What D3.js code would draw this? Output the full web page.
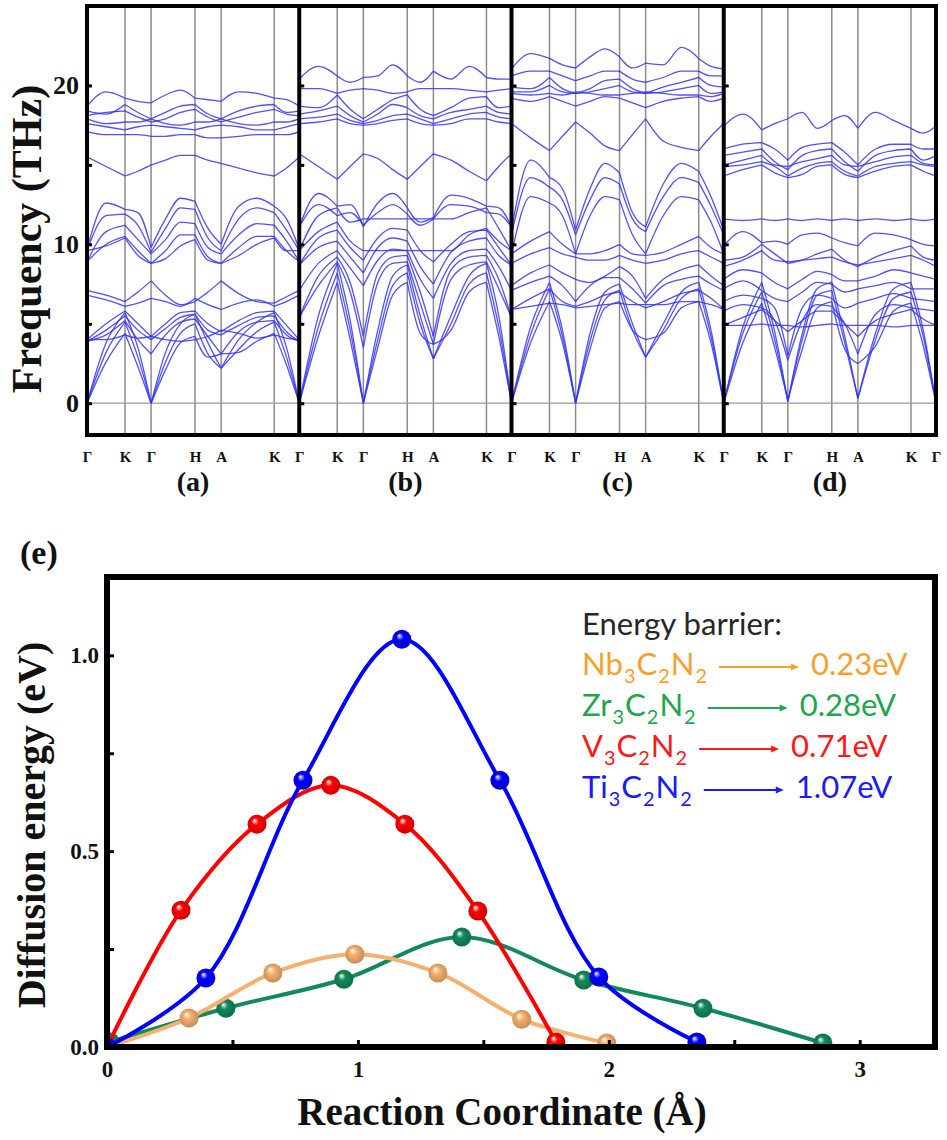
<!DOCTYPE html>
<html>
<head>
<meta charset="utf-8">
<script src="https://cdn.jsdelivr.net/npm/d3@7"></script>
<style>
  body { margin: 0; background: #fff; }
  svg { display: block; }
  .serif { font-family: "Liberation Serif", "Times New Roman", serif; font-weight: bold; fill: #111; }
</style>
</head>
<body>
<svg id="chart" width="947" height="1140"></svg>
<script>
// ---- phonon dispersions, panels (a)-(d) ----
var kLabels = ["Γ", "K", "Γ", "H", "A", "K", "Γ"];
var kTicks = [0, 0.179, 0.302, 0.509, 0.632, 0.882, 1.0];
var kGrid = [0, 0.09, 0.179, 0.24, 0.302, 0.37, 0.44, 0.509, 0.57, 0.632, 0.715, 0.80, 0.882, 0.94, 1.0];
var panelNames = ["(a)", "(b)", "(c)", "(d)"];
var freqTicks = [0, 10, 20];
var freqMinor = [0, 5, 10, 15, 20];

var bandsA = [
  [18.7, 19.6, 19.2, 19.0, 18.9, 19.4, 19.7, 19.2, 19.1, 19.0, 19.6, 19.5, 19.2, 19.1, 18.7],
  [18.4, 18.2, 18.8, 18.3, 17.9, 18.3, 18.7, 18.8, 18.2, 17.9, 18.4, 18.7, 18.8, 18.3, 18.4],
  [18.1, 18.3, 18.4, 18.0, 17.7, 17.9, 18.3, 18.5, 18.0, 17.7, 18.0, 18.3, 18.5, 18.2, 18.1],
  [17.9, 17.6, 17.7, 17.7, 17.9, 17.6, 17.5, 17.7, 17.7, 17.9, 17.6, 17.5, 17.7, 17.7, 17.9],
  [17.6, 17.4, 17.2, 17.4, 17.5, 17.4, 17.3, 17.2, 17.4, 17.5, 17.4, 17.2, 17.2, 17.4, 17.6],
  [17.1, 16.9, 16.9, 16.9, 16.8, 16.8, 16.9, 16.9, 16.7, 16.7, 16.8, 16.9, 16.9, 16.9, 17.1],
  [15.5, 14.9, 14.3, 14.6, 15.0, 15.3, 15.6, 15.6, 15.3, 15.1, 14.8, 14.5, 14.3, 14.8, 15.5],
  [9.7, 12.6, 12.2, 12.0, 9.8, 11.6, 12.9, 12.7, 11.0, 10.0, 12.4, 12.9, 12.4, 11.6, 9.7],
  [9.6, 11.8, 11.9, 11.2, 9.5, 11.0, 12.3, 12.2, 10.4, 9.6, 11.6, 12.3, 12.0, 10.9, 9.6],
  [8.9, 10.8, 11.2, 10.3, 9.4, 10.3, 11.4, 11.3, 9.8, 9.4, 10.6, 11.3, 11.2, 10.2, 8.9],
  [8.9, 10.0, 10.5, 9.6, 8.8, 9.6, 10.6, 10.6, 9.2, 8.8, 9.8, 10.5, 10.5, 9.6, 8.9],
  [9.6, 9.9, 10.4, 9.3, 8.8, 9.1, 9.9, 10.3, 9.0, 8.8, 9.3, 10.0, 10.4, 9.6, 9.6],
  [7.1, 6.8, 6.4, 7.0, 7.7, 6.8, 6.2, 6.4, 7.0, 7.7, 6.9, 6.4, 6.3, 6.7, 7.1],
  [6.8, 6.5, 6.1, 6.3, 6.6, 6.4, 6.1, 6.6, 6.2, 5.9, 6.3, 6.5, 6.1, 6.4, 6.8],
  [4.0, 5.0, 5.8, 5.0, 4.2, 5.0, 5.7, 5.8, 5.0, 4.5, 5.2, 5.7, 5.8, 4.9, 4.0],
  [3.9, 4.6, 5.5, 4.6, 4.0, 4.7, 5.4, 5.6, 4.6, 4.3, 4.9, 5.4, 5.5, 4.5, 3.9],
  [4.0, 4.0, 4.3, 4.1, 4.2, 4.0, 3.9, 4.0, 4.2, 4.6, 4.4, 4.1, 4.3, 4.1, 4.0],
  [3.9, 4.3, 5.2, 4.0, 3.1, 4.3, 5.1, 5.3, 4.2, 3.1, 4.5, 5.1, 5.2, 4.3, 3.9],
  [0, 3.8, 5.7, 3.5, 0, 3.2, 5.0, 5.6, 3.8, 2.2, 4.0, 5.1, 5.7, 3.5, 0],
  [0, 3.2, 5.1, 2.9, 0, 2.6, 4.4, 5.0, 3.1, 2.2, 3.4, 4.5, 5.1, 2.9, 0],
  [0, 2.6, 4.4, 2.3, 0, 2.1, 3.8, 4.2, 2.9, 3.1, 3.2, 3.9, 4.4, 2.4, 0]
];

var bandsB = [
  [20.4, 21.2, 20.6, 20.2, 20.5, 20.6, 21.3, 20.6, 20.2, 20.9, 20.4, 21.2, 20.5, 20.4, 20.4],
  [19.8, 19.8, 19.5, 19.7, 19.8, 19.7, 19.5, 19.6, 19.8, 19.8, 19.8, 19.7, 19.6, 19.7, 19.8],
  [18.7, 18.6, 19.4, 18.5, 17.9, 18.5, 19.1, 19.4, 18.5, 18.1, 18.6, 19.2, 19.3, 18.6, 18.7],
  [18.2, 18.4, 18.7, 18.1, 17.7, 18.2, 18.8, 18.6, 18.1, 17.9, 18.3, 18.5, 18.7, 18.3, 18.2],
  [17.9, 18.0, 18.2, 17.8, 17.6, 17.8, 18.1, 18.2, 17.9, 17.6, 17.9, 18.2, 18.3, 18.0, 17.9],
  [17.6, 17.7, 17.9, 17.6, 17.5, 17.6, 17.8, 17.9, 17.6, 17.5, 17.6, 17.9, 17.9, 17.7, 17.6],
  [15.7, 14.9, 14.1, 14.9, 15.7, 15.4, 14.7, 14.1, 14.9, 15.7, 15.3, 14.6, 14.0, 14.9, 15.7],
  [11.1, 13.2, 12.4, 12.5, 11.1, 12.6, 13.2, 12.3, 11.4, 11.7, 13.1, 12.9, 12.4, 12.3, 11.1],
  [11.1, 12.5, 11.8, 12.0, 11.2, 12.0, 12.5, 11.9, 11.2, 11.6, 12.5, 12.4, 12.0, 11.9, 11.1],
  [9.6, 11.8, 12.3, 11.4, 11.6, 11.6, 11.6, 11.6, 11.6, 11.6, 11.6, 12.0, 12.3, 11.0, 9.6],
  [9.6, 10.8, 11.4, 10.2, 9.6, 9.6, 9.6, 9.6, 9.6, 9.6, 9.6, 10.6, 11.0, 10.2, 9.6],
  [8.7, 10.4, 10.9, 9.8, 9.0, 10.4, 11.0, 10.9, 9.6, 8.9, 10.0, 10.8, 10.9, 9.8, 8.7],
  [8.7, 9.8, 10.2, 9.2, 8.2, 9.8, 10.4, 10.2, 8.6, 7.5, 9.5, 10.2, 10.4, 9.3, 8.7],
  [7.1, 8.8, 9.6, 8.5, 7.4, 9.0, 9.7, 9.6, 7.8, 6.6, 8.8, 9.6, 9.7, 8.6, 7.1],
  [5.4, 8.0, 9.2, 7.6, 4.2, 8.2, 9.2, 9.3, 7.0, 4.2, 8.4, 9.2, 9.3, 7.8, 5.4],
  [5.4, 7.4, 8.9, 7.0, 3.5, 7.6, 8.8, 8.9, 6.3, 3.7, 7.8, 8.7, 8.9, 7.2, 5.4],
  [0, 5.5, 8.8, 5.2, 0, 4.6, 8.0, 8.7, 5.5, 2.8, 5.5, 8.0, 8.8, 5.5, 0],
  [0, 4.8, 8.2, 4.6, 0, 4.0, 7.4, 8.2, 5.0, 2.8, 5.0, 7.5, 8.2, 4.8, 0],
  [0, 4.2, 7.6, 4.0, 0, 3.5, 6.8, 7.6, 4.4, 3.7, 4.6, 7.0, 7.6, 4.2, 0]
];

var bandsC = [
  [21.05, 22.0, 21.7, 21.3, 21.1, 21.8, 22.3, 21.8, 21.1, 21.4, 21.3, 22.4, 21.7, 21.2, 21.05],
  [20.6, 20.9, 20.9, 20.6, 20.3, 20.6, 20.9, 20.9, 20.4, 20.2, 20.5, 20.9, 20.9, 20.6, 20.6],
  [19.9, 19.8, 20.5, 19.8, 19.5, 19.8, 20.3, 20.4, 19.8, 19.5, 19.9, 20.2, 20.5, 20.0, 19.9],
  [19.6, 19.6, 20.0, 19.6, 19.5, 19.6, 19.8, 20.0, 19.6, 19.5, 19.6, 19.8, 20.0, 19.5, 19.6],
  [19.5, 19.4, 19.5, 19.4, 19.6, 19.5, 19.4, 19.4, 19.5, 19.6, 19.5, 19.4, 19.4, 19.3, 19.5],
  [19.2, 19.0, 19.3, 19.0, 18.7, 19.0, 19.3, 19.2, 18.9, 18.6, 19.0, 19.2, 19.3, 19.0, 19.2],
  [17.6, 16.7, 15.9, 16.8, 17.7, 17.0, 16.2, 15.9, 16.9, 17.9, 16.5, 16.1, 15.9, 16.8, 17.6],
  [10.9, 15.3, 14.2, 13.5, 10.9, 13.5, 15.1, 14.5, 12.0, 11.1, 13.8, 15.1, 14.6, 13.0, 10.9],
  [10.6, 14.2, 13.6, 12.8, 10.6, 12.8, 14.2, 13.8, 11.6, 10.8, 13.0, 14.2, 13.9, 12.4, 10.6],
  [9.4, 13.0, 12.6, 11.8, 9.4, 11.8, 13.0, 12.8, 10.6, 9.4, 11.8, 13.0, 12.8, 11.4, 9.4],
  [9.4, 10.2, 10.8, 10.0, 9.4, 9.4, 9.6, 10.0, 9.4, 9.3, 9.5, 10.0, 10.5, 9.8, 9.4],
  [8.8, 9.4, 9.8, 9.4, 9.2, 9.0, 9.0, 9.3, 9.0, 8.8, 9.0, 9.4, 9.6, 9.2, 8.8],
  [7.4, 8.2, 8.7, 8.2, 7.8, 7.6, 8.0, 8.6, 8.0, 6.6, 7.8, 8.4, 8.7, 8.0, 7.4],
  [7.1, 7.6, 8.0, 7.4, 6.4, 7.4, 7.9, 7.9, 7.2, 6.3, 7.4, 7.8, 8.0, 7.5, 7.1],
  [5.9, 6.6, 7.2, 6.4, 6.1, 6.4, 6.8, 7.0, 6.4, 6.0, 6.4, 6.9, 7.1, 6.6, 5.9],
  [5.9, 6.1, 6.3, 6.2, 6.0, 6.1, 6.2, 6.3, 6.2, 6.2, 6.2, 6.4, 6.4, 6.2, 5.9],
  [0, 4.8, 7.6, 4.6, 0, 4.4, 7.0, 7.5, 5.0, 2.9, 5.0, 7.0, 7.6, 4.6, 0],
  [0, 4.3, 7.2, 4.2, 0, 3.9, 6.5, 7.1, 4.6, 2.9, 4.6, 6.6, 7.2, 4.2, 0],
  [0, 3.8, 6.4, 3.8, 0, 3.4, 6.0, 6.4, 4.6, 4.0, 4.4, 6.0, 6.4, 3.8, 0]
];

var bandsD = [
  [17.45, 18.2, 17.2, 17.6, 17.9, 18.3, 17.3, 17.8, 18.1, 17.3, 18.3, 17.8, 17.3, 17.0, 17.45],
  [16.0, 16.3, 16.4, 16.0, 15.3, 16.1, 16.3, 16.4, 15.8, 15.0, 16.0, 16.3, 16.3, 16.0, 16.0],
  [15.6, 15.8, 16.0, 15.2, 14.7, 15.6, 15.9, 16.0, 15.2, 14.6, 15.6, 15.9, 16.0, 15.3, 15.6],
  [15.0, 15.3, 15.6, 15.0, 14.9, 15.2, 15.4, 15.6, 15.0, 14.9, 15.2, 15.5, 15.6, 15.1, 15.0],
  [14.9, 15.0, 15.2, 14.9, 14.3, 14.8, 15.1, 15.2, 14.6, 14.3, 14.9, 15.1, 15.2, 15.0, 14.9],
  [14.3, 14.7, 15.0, 14.5, 14.2, 14.4, 14.9, 15.0, 14.4, 14.2, 14.6, 14.9, 15.0, 14.6, 14.3],
  [11.6, 11.5, 11.6, 11.5, 11.6, 11.5, 11.6, 11.5, 11.6, 11.5, 11.6, 11.5, 11.6, 11.5, 11.6],
  [9.9, 10.8, 10.1, 10.2, 10.0, 10.6, 10.7, 10.4, 10.1, 9.9, 10.7, 10.6, 10.3, 10.0, 9.9],
  [9.0, 9.2, 10.0, 9.4, 8.8, 9.0, 9.4, 9.7, 9.0, 8.6, 9.2, 9.6, 9.9, 9.2, 9.0],
  [8.6, 9.0, 9.6, 9.0, 8.9, 9.0, 9.1, 9.2, 8.9, 8.7, 8.9, 9.1, 9.3, 9.0, 8.6],
  [7.8, 8.4, 8.2, 7.6, 7.2, 7.8, 8.3, 8.1, 7.7, 7.7, 8.0, 8.4, 8.2, 8.0, 7.8],
  [7.2, 7.7, 7.1, 6.6, 6.4, 7.0, 7.6, 7.5, 7.0, 7.2, 7.4, 7.6, 7.2, 7.2, 7.2],
  [6.4, 6.8, 6.6, 6.0, 3.0, 6.0, 6.8, 6.6, 6.0, 6.3, 6.6, 6.9, 6.6, 6.5, 6.4],
  [5.8, 6.2, 6.0, 5.2, 2.7, 5.2, 6.2, 6.1, 5.0, 3.1, 5.6, 6.2, 6.0, 5.9, 5.8],
  [4.9, 4.9, 5.0, 4.9, 4.9, 4.8, 4.9, 5.0, 4.9, 4.9, 4.9, 4.8, 4.9, 4.9, 4.9],
  [4.9, 5.4, 5.9, 5.2, 4.5, 5.2, 5.8, 5.8, 5.0, 4.2, 5.2, 5.6, 5.9, 5.3, 4.9],
  [0, 4.8, 7.6, 4.5, 0.1, 4.4, 7.2, 7.6, 4.2, 0.3, 4.4, 7.2, 7.6, 4.6, 0],
  [0, 4.4, 7.0, 4.0, 0.1, 4.0, 6.8, 7.1, 3.8, 0.3, 4.0, 6.6, 7.0, 4.2, 0],
  [0, 3.8, 6.3, 3.5, 0.2, 3.4, 6.0, 6.4, 3.4, 2.5, 3.6, 5.8, 6.3, 3.6, 0]
];

// ---- diffusion barriers, panel (e) ----
var coordNb = [0, 0.327, 0.661, 0.988, 1.319, 1.653, 1.992];
var energyNb = [0, 0.074, 0.189, 0.237, 0.189, 0.071, 0.010];
var coordZr = [0.012, 0.474, 0.944, 1.414, 1.900, 2.375, 2.853];
var energyZr = [0.013, 0.099, 0.173, 0.281, 0.171, 0.099, 0.010];
var coordV = [0, 0.295, 0.598, 0.892, 1.187, 1.478, 1.789];
var energyV = [0, 0.349, 0.569, 0.668, 0.569, 0.347, 0.013];
var coordTi = [0, 0.394, 0.781, 1.175, 1.566, 1.960, 2.351];
var energyTi = [0, 0.176, 0.681, 1.041, 0.681, 0.179, 0.013];

var legendNames = ["Nb3C2N2", "Zr3C2N2", "V3C2N2", "Ti3C2N2"];
var legendValues = ["0.23eV", "0.28eV", "0.71eV", "1.07eV"];
var xTickLabels = [0, 1, 2, 3];
var xTickAll = [0, 0.5, 1, 1.5, 2, 2.5, 3];
var yTickLabels = [0, 0.5, 1.0];
var yTickAll = [0, 0.25, 0.5, 0.75, 1.0];

var svg = d3.select("#chart");
var defs = svg.append("defs");

// =================== top figure ===================
var panelX = d3.scaleLinear().domain([0, 4]).range([87, 936]);
var freqY = d3.scaleLinear().domain([-2, 25]).range([435, 6]);
var allBands = [bandsA, bandsB, bandsC, bandsD];

// which grid points belong to each k-path segment (drawn separately so cusps stay sharp)
var segIdx = d3.range(kTicks.length - 1).map(function (s) {
  return d3.range(kGrid.length).filter(function (j) {
    return kGrid[j] >= kTicks[s] - 1e-6 && kGrid[j] <= kTicks[s + 1] + 1e-6;
  });
});

allBands.forEach(function (bands, p) {
  var kx = d3.scaleLinear().domain([0, 1]).range([panelX(p), panelX(p + 1)]);
  var g = svg.append("g");

  // high symmetry lines
  g.selectAll("line.sym").data(kTicks.slice(1, -1)).enter().append("line")
    .attr("x1", kx).attr("x2", kx)
    .attr("y1", freqY(25)).attr("y2", freqY(-2))
    .attr("stroke", "#8c8c8c").attr("stroke-width", 1.5);

  // zero line
  g.append("line")
    .attr("x1", kx(0)).attr("x2", kx(1))
    .attr("y1", freqY(0)).attr("y2", freqY(0))
    .attr("stroke", "#999").attr("stroke-width", 1.3);

  var line = d3.line()
    .x(function (d) { return kx(d[0]); })
    .y(function (d) { return freqY(d[1]); })
    .curve(d3.curveMonotoneX);

  g.selectAll("path.band").data(bands).enter().append("path")
    .attr("class", "band")
    .attr("d", function (b) {
      return segIdx.map(function (idx) {
        return line(idx.map(function (j) { return [kGrid[j], b[j]]; }));
      }).join("");
    })
    .attr("fill", "none")
    .attr("stroke", "#3434f2")
    .attr("stroke-opacity", 0.85)
    .attr("stroke-width", 1.3);

  // inward ticks on the left edge of each panel
  var ticks = g.append("g").attr("transform", "translate(" + kx(0) + ",0)")
    .call(d3.axisRight(freqY).tickValues(freqMinor).tickSize(5).tickFormat(""));
  ticks.select(".domain").remove();
  ticks.selectAll("line").attr("stroke", "#000").attr("stroke-width", 3);

  // k labels along the bottom (shared Γ drawn once)
  var kl = g.append("g").attr("transform", "translate(0," + freqY(-2) + ")")
    .call(d3.axisBottom(kx)
      .tickValues(p === 0 ? kTicks : kTicks.slice(1))
      .tickSize(0).tickPadding(16)
      .tickFormat(function (d) { return kLabels[kTicks.indexOf(d)]; }));
  kl.select(".domain").remove();
  kl.selectAll("text").attr("class", "serif").style("font-size", "15px");

  g.append("text").attr("class", "serif")
    .attr("x", kx(0.5)).attr("y", 491)
    .attr("text-anchor", "middle")
    .style("font-size", "28px")
    .text(panelNames[p]);
});

// frame + dividers
svg.append("rect")
  .attr("x", panelX(0)).attr("y", freqY(25))
  .attr("width", panelX(4) - panelX(0)).attr("height", freqY(-2) - freqY(25))
  .attr("fill", "none").attr("stroke", "#000").attr("stroke-width", 4);
svg.selectAll("line.divider").data([1, 2, 3]).enter().append("line")
  .attr("x1", panelX).attr("x2", panelX)
  .attr("y1", freqY(25)).attr("y2", freqY(-2))
  .attr("stroke", "#000").attr("stroke-width", 4);

var fy = svg.append("g").attr("transform", "translate(" + panelX(0) + ",0)")
  .call(d3.axisLeft(freqY).tickValues(freqTicks).tickSize(0).tickPadding(8));
fy.select(".domain").remove();
fy.selectAll("text").attr("class", "serif").style("font-size", "26px");

svg.append("text").attr("class", "serif")
  .attr("transform", "translate(41,239) rotate(-90)")
  .attr("text-anchor", "middle")
  .style("font-size", "42px")
  .text("Frequency (THz)");

// =================== bottom figure ===================
var xE = d3.scaleLinear().domain([0, 3.3]).range([107, 935]);
var yE = d3.scaleLinear().domain([0, 1.2]).range([1047, 577]);

svg.append("text").attr("class", "serif")
  .attr("x", 20).attr("y", 564)
  .style("font-size", "34px")
  .text("(e)");

defs.append("clipPath").attr("id", "plotClip").append("rect")
  .attr("x", xE(0)).attr("y", yE(1.2))
  .attr("width", xE(3.3) - xE(0)).attr("height", yE(0) - yE(1.2));

var diffusion = [
  { x: coordZr, y: energyZr, color: "#12895b" },
  { x: coordNb, y: energyNb, color: "#f6b06e" },
  { x: coordV, y: energyV, color: "#ff0000" },
  { x: coordTi, y: energyTi, color: "#0000ff" }
];

var curve = d3.line()
  .x(function (d) { return xE(d[0]); })
  .y(function (d) { return yE(d[1]); })
  .curve(d3.curveCatmullRom.alpha(0.5));

var plot = svg.append("g").attr("clip-path", "url(#plotClip)");

diffusion.forEach(function (s, i) {
  var pts = s.x.map(function (x, j) { return [x, s.y[j]]; });
  var grad = defs.append("radialGradient").attr("id", "ball" + i)
    .attr("cx", "0.5").attr("cy", "0.5").attr("r", "0.55")
    .attr("fx", "0.36").attr("fy", "0.3");
  grad.append("stop").attr("offset", "0%").attr("stop-color", "#ffffff");
  grad.append("stop").attr("offset", "35%").attr("stop-color", s.color);
  grad.append("stop").attr("offset", "100%").attr("stop-color", d3.color(s.color).darker(0.7));

  plot.append("path")
    .attr("d", curve(pts))
    .attr("fill", "none")
    .attr("stroke", s.color)
    .attr("stroke-width", 4);

  plot.selectAll("circle.s" + i).data(pts).enter().append("circle")
    .attr("cx", function (d) { return xE(d[0]); })
    .attr("cy", function (d) { return yE(d[1]); })
    .attr("r", 9.5)
    .attr("fill", "url(#ball" + i + ")");
});

// frame
svg.append("rect")
  .attr("x", xE(0)).attr("y", yE(1.2))
  .attr("width", xE(3.3) - xE(0)).attr("height", yE(0) - yE(1.2))
  .attr("fill", "none").attr("stroke", "#000").attr("stroke-width", 6);

// inward ticks
var xt = svg.append("g").attr("transform", "translate(0," + yE(0) + ")")
  .call(d3.axisTop(xE).tickValues(xTickAll).tickSize(7).tickFormat(""));
xt.select(".domain").remove();
xt.selectAll("line").attr("stroke", "#000").attr("stroke-width", 3);
var yt = svg.append("g").attr("transform", "translate(" + xE(0) + ",0)")
  .call(d3.axisRight(yE).tickValues(yTickAll).tickSize(7).tickFormat(""));
yt.select(".domain").remove();
yt.selectAll("line").attr("stroke", "#000").attr("stroke-width", 3);

var xl = svg.append("g").attr("transform", "translate(0," + yE(0) + ")")
  .call(d3.axisBottom(xE).tickValues(xTickLabels).tickSize(0).tickPadding(14).tickFormat(d3.format("d")));
xl.select(".domain").remove();
xl.selectAll("text").attr("class", "serif").style("font-size", "23px");

var yl = svg.append("g").attr("transform", "translate(" + xE(0) + ",0)")
  .call(d3.axisLeft(yE).tickValues(yTickLabels).tickSize(0).tickPadding(8).tickFormat(d3.format(".1f")));
yl.select(".domain").remove();
yl.selectAll("text").attr("class", "serif").style("font-size", "23px");

svg.append("text").attr("class", "serif")
  .attr("x", 502).attr("y", 1125)
  .attr("text-anchor", "middle")
  .style("font-size", "39px")
  .text("Reaction Coordinate (Å)");

svg.append("text").attr("class", "serif")
  .attr("transform", "translate(45,825) rotate(-90)")
  .attr("text-anchor", "middle")
  .style("font-size", "40px")
  .text("Diffusion energy (eV)");

// ---- legend (text block) ----
var legendFont = "Lato, 'Open Sans', sans-serif";
var legendColors = ["#f5a12c", "#1fa64e", "#ff1a1a", "#1a1aff"];
var head = svg.append("text")
  .attr("x", 582).attr("y", 635)
  .style("font-family", legendFont).style("font-size", "30px")
  .attr("fill", "#262626")
  .text("Energy barrier:");
var fs = 30 * 200 / head.node().getComputedTextLength();
head.style("font-size", fs + "px");

legendNames.forEach(function (name, i) {
  var y = 675 + i * 41;
  var t = svg.append("text")
    .attr("x", 582).attr("y", y)
    .style("font-family", legendFont).style("font-size", fs + "px")
    .attr("fill", legendColors[i]);
  var shifted = false;
  name.match(/\d+|\D+/g).forEach(function (part) {
    var isSub = /\d/.test(part);
    var sp = t.append("tspan").text(part);
    if (isSub) {
      sp.attr("dy", 8).attr("dx", 1).style("font-size", (fs * 0.64) + "px");
      shifted = true;
    } else if (shifted) {
      sp.attr("dy", -8).attr("dx", 1);
      shifted = false;
    }
  });
  // bbox includes the dx shifts of the subscripts
  var x0 = t.node().getBBox().x + t.node().getBBox().width + 12;
  var x1 = x0 + 80;
  svg.append("line")
    .attr("x1", x0).attr("x2", x1 - 6)
    .attr("y1", y - 8).attr("y2", y - 8)
    .attr("stroke", legendColors[i]).attr("stroke-width", 2);
  svg.append("path")
    .attr("d", "M" + x1 + "," + (y - 8) + "L" + (x1 - 8) + "," + (y - 11.5) + "L" + (x1 - 8) + "," + (y - 4.5) + "Z")
    .attr("fill", legendColors[i]);
  svg.append("text")
    .attr("x", x1 + 12).attr("y", y)
    .style("font-family", legendFont).style("font-size", fs + "px")
    .attr("fill", legendColors[i])
    .text(legendValues[i]);
});
</script>
</body>
</html>
